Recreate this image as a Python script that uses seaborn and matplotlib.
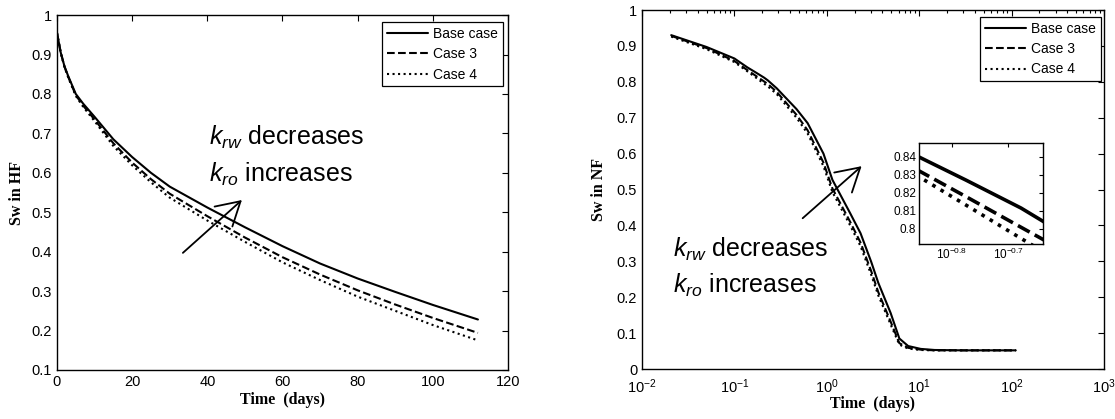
import matplotlib
matplotlib.use("Agg")
import matplotlib.pyplot as plt
import matplotlib.ticker as mticker
import numpy as np
import pandas as pd
import seaborn as sns

# ---------------- data ----------------
case_names = ["Base case", "Case 3", "Case 4"]
case_styles = ["-", "--", ":"]

# Left panel: Sw in hydraulic fracture vs time (linear axis)
t_hf = [0, 0.5, 1, 2, 3, 5, 7, 10, 15, 20, 25, 30, 40, 50, 60, 70, 80, 90, 100, 112]
sw_hf_base = [0.955, 0.930, 0.905, 0.870, 0.845, 0.800, 0.775, 0.742, 0.685, 0.640,
              0.600, 0.565, 0.512, 0.462, 0.414, 0.370, 0.332, 0.298, 0.265, 0.228]
sw_hf_case3 = [0.955, 0.930, 0.905, 0.869, 0.843, 0.797, 0.770, 0.735, 0.675, 0.626,
               0.584, 0.547, 0.490, 0.436, 0.386, 0.342, 0.302, 0.266, 0.232, 0.194]
sw_hf_case4 = [0.955, 0.930, 0.904, 0.868, 0.842, 0.795, 0.767, 0.731, 0.668, 0.619,
               0.576, 0.537, 0.479, 0.425, 0.373, 0.328, 0.286, 0.250, 0.214, 0.175]

# Right panel: Sw in natural fracture vs time (log axis)
t_nf = [0.0207, 0.05, 0.1, 0.1385, 0.168, 0.21, 0.23, 0.287, 0.47, 0.62, 0.92, 1.15,
        1.79, 2.32, 3.03, 3.61, 4.91, 6.1, 7.6, 10.4, 14.7, 30, 60, 111]
sw_nf_base = [0.930, 0.897, 0.865, 0.840, 0.827, 0.8115, 0.804, 0.782, 0.724, 0.685,
              0.600, 0.527, 0.434, 0.378, 0.298, 0.240, 0.156, 0.085, 0.064, 0.056,
              0.053, 0.052, 0.052, 0.052]
sw_nf_case3 = [0.928, 0.894, 0.858, 0.8323, 0.8178, 0.8008, 0.7939, 0.772, 0.708, 0.665,
               0.575, 0.503, 0.410, 0.352, 0.272, 0.214, 0.132, 0.072, 0.059, 0.054,
               0.052, 0.052, 0.052, 0.052]
sw_nf_case4 = [0.926, 0.891, 0.855, 0.829, 0.8131, 0.7946, 0.7872, 0.766, 0.700, 0.656,
               0.565, 0.493, 0.400, 0.342, 0.262, 0.205, 0.124, 0.068, 0.057, 0.053,
               0.052, 0.052, 0.052, 0.052]

hf_ticks_x = [0, 20, 40, 60, 80, 100, 120]
hf_ticks_y = [0.1, 0.2, 0.3, 0.4, 0.5, 0.6, 0.7, 0.8, 0.9, 1.0]
nf_ticks_y = [0, 0.1, 0.2, 0.3, 0.4, 0.5, 0.6, 0.7, 0.8, 0.9, 1.0]
inset_ticks_x = [10 ** -0.8, 10 ** -0.7]
inset_tick_labels_x = [r"$10^{-0.8}$", r"$10^{-0.7}$"]
inset_ticks_y = [0.80, 0.81, 0.82, 0.83, 0.84]

label_time = "Time  (days)"
label_hf = "Sw in HF"
label_nf = "Sw in NF"
annot_line1 = r"$k_{rw}$ decreases"
annot_line2 = r"$k_{ro}$ increases"

# ---------------- style ----------------
sns.set_style("white")
plt.rcParams["font.family"] = ["Liberation Sans", "DejaVu Sans"]
plt.rcParams["mathtext.fontset"] = "custom"
plt.rcParams["mathtext.rm"] = "Liberation Sans"
plt.rcParams["mathtext.it"] = "Liberation Sans:italic"
plt.rcParams["mathtext.bf"] = "Liberation Sans:bold"
plt.rcParams["axes.edgecolor"] = "black"
plt.rcParams["axes.linewidth"] = 1.0
plt.rcParams["text.color"] = "black"
plt.rcParams["axes.labelcolor"] = "black"
plt.rcParams["xtick.color"] = "black"
plt.rcParams["ytick.color"] = "black"

df_hf = pd.DataFrame({
    "t": t_hf * 3,
    "sw": sw_hf_base + sw_hf_case3 + sw_hf_case4,
    "case": sum([[c] * len(t_hf) for c in case_names], []),
})
df_nf = pd.DataFrame({
    "t": t_nf * 3,
    "sw": sw_nf_base + sw_nf_case3 + sw_nf_case4,
    "case": sum([[c] * len(t_nf) for c in case_names], []),
})

fig = plt.figure(figsize=(11.15, 4.19), dpi=100)
ax1 = fig.add_axes([0.0511, 0.117, 0.4045, 0.847])
ax2 = fig.add_axes([0.5758, 0.1193, 0.4143, 0.8568])
axin = fig.add_axes([0.8242, 0.4177, 0.1112, 0.241])

lab_font = dict(family=["Liberation Serif", "DejaVu Serif"], weight="bold", size=11.5,
                color="black")


def draw_lines(ax, df, lw):
    for name, ls in zip(case_names, case_styles):
        sub = df[df["case"] == name]
        sns.lineplot(data=sub, x="t", y="sw", ax=ax, color="black", linestyle=ls,
                     linewidth=lw, estimator=None, sort=False, label=name, legend=False)


def style_ticks(ax, size=10.5):
    ax.tick_params(which="both", direction="in", top=True, right=True,
                   labelsize=size, colors="black", width=0.8)
    ax.tick_params(which="major", length=4)
    ax.tick_params(which="minor", length=2.5)
    for s in ax.spines.values():
        s.set_visible(True)
        s.set_color("black")
        s.set_linewidth(1.0)


def add_legend(ax, anchor):
    leg = ax.legend(loc="upper right", bbox_to_anchor=anchor, borderaxespad=0,
                    frameon=True, fancybox=False, shadow=False, fontsize=10,
                    handlelength=3.0, handletextpad=0.35, labelspacing=0.45,
                    borderpad=0.35, framealpha=1)
    leg.get_frame().set_edgecolor("black")
    leg.get_frame().set_linewidth(0.9)
    for txt in leg.get_texts():
        txt.set_color("black")


# ---------- left panel ----------
draw_lines(ax1, df_hf, 1.5)
ax1.set_xlim(0, 120)
ax1.set_ylim(0.1, 1.0)
ax1.set_xticks(hf_ticks_x)
ax1.set_yticks(hf_ticks_y)
ax1.yaxis.set_major_formatter(mticker.FormatStrFormatter("%g"))
style_ticks(ax1)
ax1.set_xlabel(label_time, fontdict=lab_font, labelpad=2)
ax1.set_ylabel(label_hf, fontdict=lab_font, labelpad=5)
add_legend(ax1, (0.989, 0.980))
ax1.text(40.4, 0.670, annot_line1, fontsize=18, va="baseline", ha="left", color="black")
ax1.text(40.4, 0.577, annot_line2, fontsize=18, va="baseline", ha="left", color="black")
ax1.annotate("", xy=(49.2, 0.531), xytext=(33.5, 0.397),
             arrowprops=dict(arrowstyle="->,head_length=0.55,head_width=0.32",
                             lw=1.3, color="black", mutation_scale=30,
                             shrinkA=0, shrinkB=0))

# ---------- right panel ----------
draw_lines(ax2, df_nf, 1.5)
ax2.set_xscale("log")
ax2.set_xlim(1e-2, 1e3)
ax2.set_ylim(0, 1.0)
ax2.set_yticks(nf_ticks_y)
ax2.yaxis.set_major_formatter(mticker.FormatStrFormatter("%g"))
ax2.xaxis.set_minor_locator(mticker.LogLocator(base=10, subs=np.arange(2, 10), numticks=20))
ax2.xaxis.set_minor_formatter(mticker.NullFormatter())
style_ticks(ax2)
ax2.tick_params(axis="x", which="major", pad=6)
ax2.set_xlabel(label_time, fontdict=lab_font, labelpad=0)
ax2.set_ylabel(label_nf, fontdict=lab_font, labelpad=7)
add_legend(ax2, (0.9935, 0.9805))
ax2.text(0.0216, 0.312, annot_line1, fontsize=18, va="baseline", ha="left", color="black")
ax2.text(0.0216, 0.212, annot_line2, fontsize=18, va="baseline", ha="left", color="black")
ax2.annotate("", xy=(2.38, 0.565), xytext=(0.548, 0.42),
             arrowprops=dict(arrowstyle="->,head_length=0.55,head_width=0.32",
                             lw=1.3, color="black", mutation_scale=30,
                             shrinkA=0, shrinkB=0))

# ---------- inset ----------
draw_lines(axin, df_nf, 2.6)
axin.set_xscale("log")
axin.set_xlim(10 ** -0.858, 10 ** -0.639)
axin.set_ylim(0.7915, 0.8477)
axin.xaxis.set_major_locator(mticker.FixedLocator(inset_ticks_x))
axin.xaxis.set_major_formatter(mticker.FixedFormatter(inset_tick_labels_x))
axin.xaxis.set_minor_locator(mticker.NullLocator())
axin.set_yticks(inset_ticks_y)
axin.yaxis.set_major_formatter(mticker.FormatStrFormatter("%g"))
style_ticks(axin, size=8.5)
axin.tick_params(which="major", length=3, pad=2)
axin.set_xlabel("")
axin.set_ylabel("")
axin.set_facecolor("white")

fig.savefig("out.png", dpi=100)
